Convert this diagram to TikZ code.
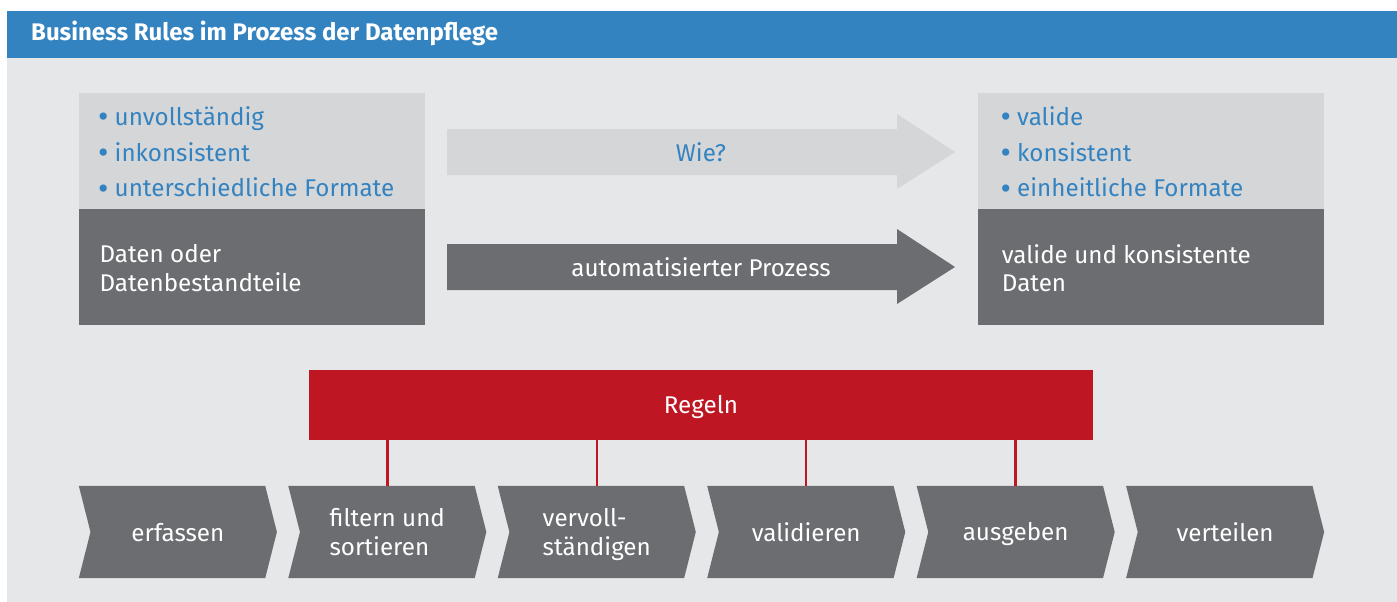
\documentclass[tikz,border=0pt]{standalone}
\usepackage{fontspec}
\setmainfont{Fira Sans}
\usetikzlibrary{calc}
\definecolor{bgray}{HTML}{E6E7E9}
\definecolor{lgray}{HTML}{D5D6D8}
\definecolor{dgray}{HTML}{6C6D71}
\definecolor{tblue}{HTML}{3483C1}
\definecolor{rred}{HTML}{BE1622}
\pgfdeclarelayer{bglayer}
\pgfdeclarelayer{midlayer}
\pgfsetlayers{bglayer,midlayer,main}
\newcommand\chs{\rule[-5pt]{0pt}{28pt}}
\newcommand\bdot{\makebox[16.5pt][l]{\raisebox{-2.5pt}{\fontsize{32}{28}\selectfont•}}}
\begin{document}
\begin{tikzpicture}[x=1pt,y=-1pt,
  txt/.style={font=\fontsize{24.2}{28.3}\selectfont, inner sep=0pt},
  bul/.style={txt, text=tblue, anchor=base west},
  wline/.style={txt, text=white, anchor=base west},
  panel/.style={inner sep=0pt, minimum width=346pt, minimum height=116pt},
  chev/.style={txt, text=white, align=left, minimum width=197.7pt, minimum height=92pt},
  rule/.style={draw=rred, line width=2.5pt}]
\useasboundingbox (0,0) rectangle (1397,602);
\begin{pgfonlayer}{bglayer}
\fill[bgray] (7,58) rectangle (1397,602);
\fill[tblue] (7,11) rectangle (1397,58);
\end{pgfonlayer}
\node[anchor=base west, text=white, inner sep=0pt, font=\bfseries\fontsize{24}{28}\selectfont] (title) at (31,40.7) {Business Rules im Prozess der Datenpflege};
% left panel
\node[panel, fill=lgray] (inL) at (252,151) {};
\node[panel, fill=dgray] (outL) at (252,267) {};
\node[bul] (l1) at (98,125) {\bdot unvollständig};
\node[bul] (l2) at (98,161) {\bdot inkonsistent};
\node[bul] (l3) at (98,196.7) {\bdot unterschiedliche Formate};
\node[wline] (l4) at (99.3,262.7) {Daten oder};
\node[wline] (l5) at (99.3,291) {Datenbestandteile};
% right panel
\node[panel, fill=lgray] (inR) at (1151,151) {};
\node[panel, fill=dgray] (outR) at (1151,267) {};
\node[bul] (r1) at (1000.5,125) {\bdot valide};
\node[bul] (r2) at (1000.5,161) {\bdot konsistent};
\node[bul] (r3) at (1000.5,196.7) {\bdot einheitliche Formate};
\node[wline] (r4) at (1001.7,263.3) {valide und konsistente};
\node[wline] (r5) at (1001.7,291) {Daten};
% arrows
\fill[lgray] (447,129) -- (897,129) -- (897,114) -- (955,152) -- (897,189) -- (897,175) -- (447,175) -- cycle;
\node[txt, text=tblue] (wie) at (701,152) {Wie?};
\fill[dgray] (447,244) -- (897,244) -- (897,229) -- (955,267) -- (897,304) -- (897,290) -- (447,290) -- cycle;
\node[txt, text=white] (auto) at (701,267) {automatisierter Prozess};
% rules bar
\node[txt, fill=rred, text=white, minimum width=784pt, minimum height=70pt] (reg) at (701,405) {\rule[-5pt]{0pt}{28pt}Regeln};
% chevrons
\foreach \i/\t in {1/{\chs erfassen}, 2/{\chs filtern und\\sortieren\chs}, 3/{\chs vervoll-\\ständigen\chs}, 4/{\chs validieren}, 5/{\chs ausgeben}, 6/{\chs verteilen}}{
  \node[chev] (c\i) at ({79+98.85+209.45*(\i-1)},532) {\t};
  \begin{pgfonlayer}{midlayer}
  \fill[dgray] (c\i.north west) -- ($(c\i.north east)+(-11.7,0)$) -- (c\i.east) -- ($(c\i.south east)+(-11.7,0)$) -- (c\i.south west) -- ($(c\i.west)+(11.7,0)$) -- cycle;
  \end{pgfonlayer}
}
\foreach \i in {2,3,4,5}{
  \draw[rule] (reg.south -| c\i.north) -- (c\i.north);
}
\end{tikzpicture}
\end{document}
